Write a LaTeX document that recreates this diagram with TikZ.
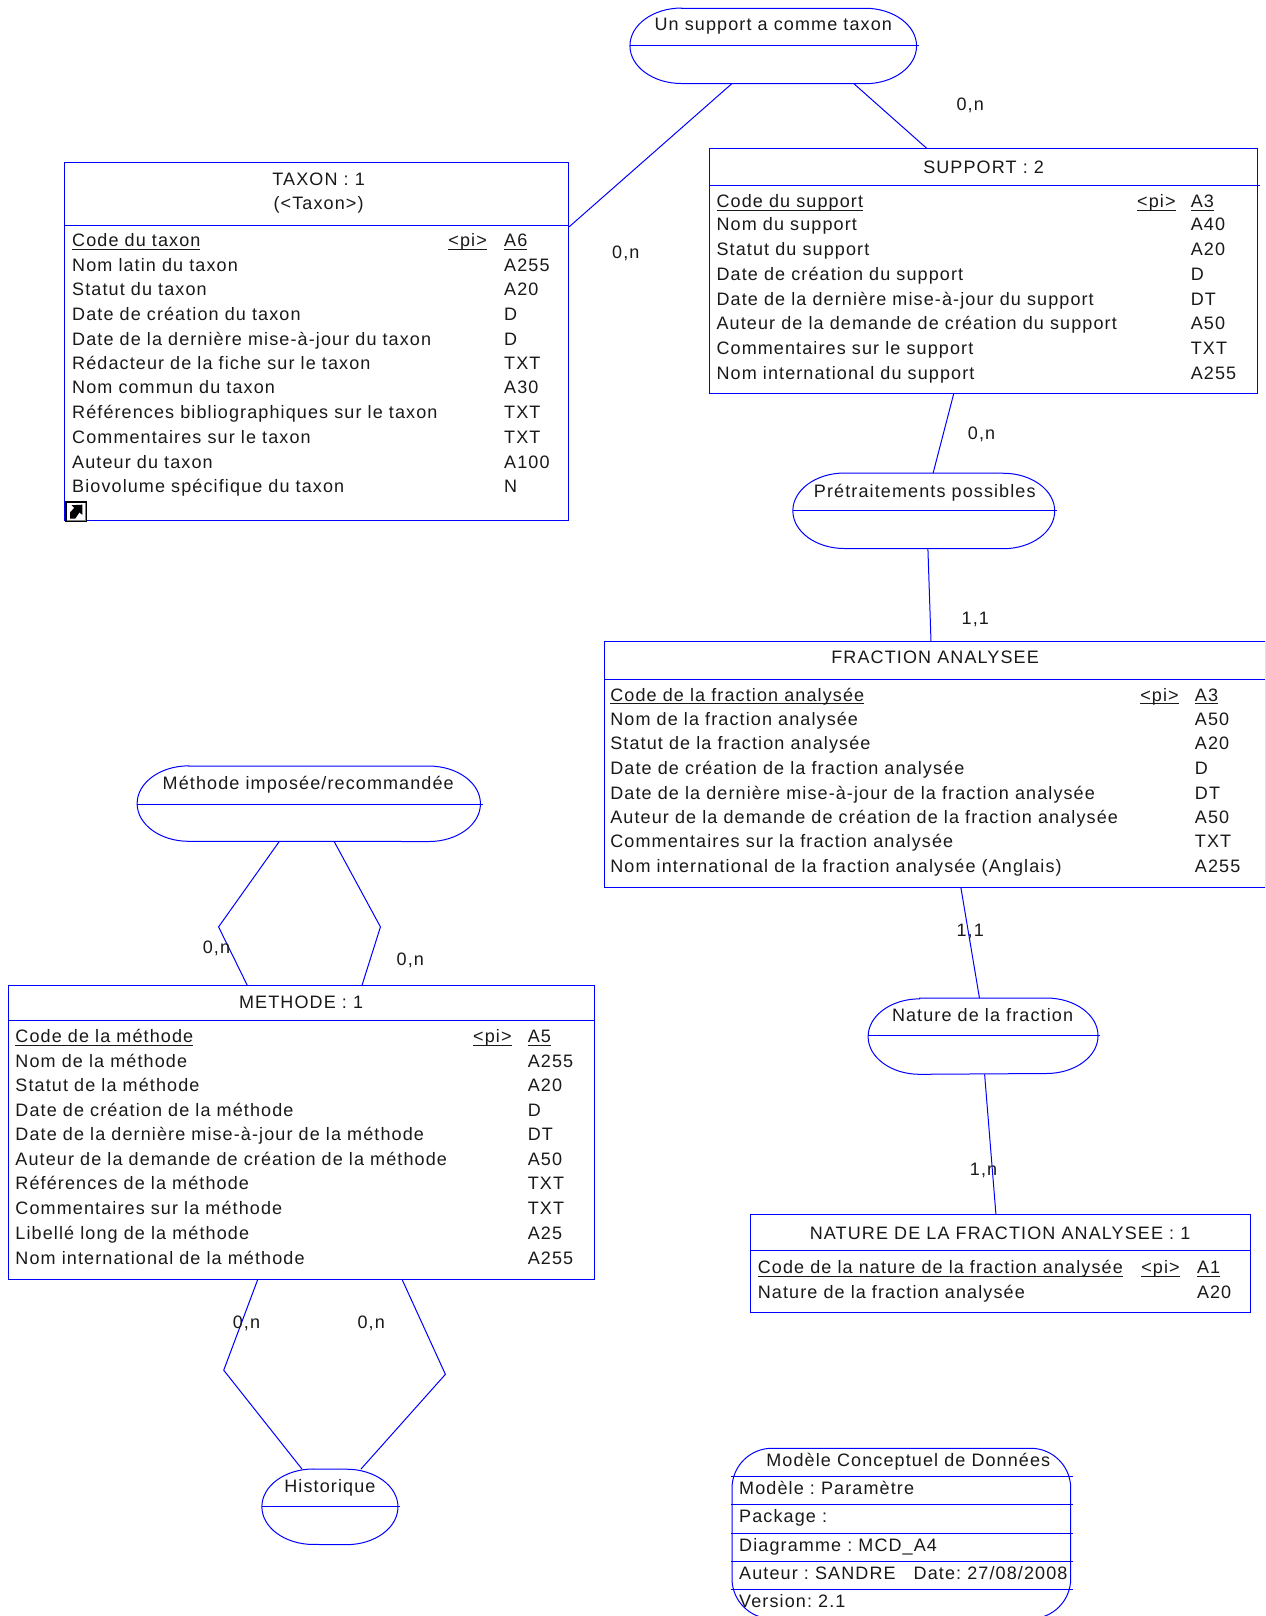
\documentclass[tikz,border=0pt]{standalone}
\usepackage{fontspec}
\setmainfont[LetterSpace=6.2]{Liberation Sans}
\frenchspacing
\usetikzlibrary{calc}
\definecolor{mcdblue}{RGB}{0,0,255}
\newcount\txtn
\newcommand\ulx[1]{\leavevmode\setbox0\hbox{#1}\rlap{\rule[-2.3pt]{\wd0}{0.6pt}}\box0}
\tikzset{
  wire/.style={draw=mcdblue,line width=0.75pt},
  entbox/.style={draw=mcdblue,line width=0.75pt,rectangle,inner sep=0pt,outer sep=0pt},
  relbox/.style={rectangle,inner sep=0pt,outer sep=0pt},
  infobox/.style={draw=mcdblue,line width=0.75pt,rectangle,rounded corners=30pt,inner sep=0pt,outer sep=0pt},
  txt/.style={font=\fontsize{13.5}{15}\selectfont,inner sep=0pt,outer sep=0pt,text=black!90},
  lefttxt/.style={txt,anchor=base west},
  midtxt/.style={txt,anchor=base},
}
% box by corners: name, x1,y1,x2,y2, style
\newcommand\shapebox[6]{\node[#6,minimum width={(#4-#2)*0.7732pt},minimum height={(#5-#3)*0.7732pt}] (#1) at ({(#2+#4)/2},{(#3+#5)/2}) {};}
% relation: name, x1,y1,x2,y2, y of separator
\newcommand\relshape[6]{\shapebox{#1}{#2}{#3}{#4}{#5}{relbox}
  \draw[wire] ($(#1.north west)+(50,0)$) -- ($(#1.north east)+(-50,0)$)
    arc[start angle=90,end angle=-90,x radius=38.66pt,y radius=28.3pt]
    -- ($(#1.south west)+(50,0)$)
    arc[start angle=270,end angle=90,x radius=38.66pt,y radius=28.3pt] -- cycle;
  \draw[wire] (#1.west |- 0,#6) -- ($(#1.east |- 0,#6)+(2,0)$);}
% one text: style, x, y (centre of line), text
\newcommand\tx[4]{\global\advance\txtn by 1 \node[#1] (txt\the\txtn) at (#2,#3+6) {#4};}
% attribute row: name x, type x, y, name, type
\newcommand\attr[5]{\tx{lefttxt}{#1}{#3}{#4}\tx{lefttxt}{#2}{#3}{#5}}
% key row: name x, pi x, type x, y, name, type
\newcommand\keyrow[6]{\tx{lefttxt}{#1}{#4}{\ulx{#5}}\tx{lefttxt}{#2}{#4}{\ulx{<pi>}}\tx{lefttxt}{#3}{#4}{\ulx{#6}}}
\begin{document}
\begin{tikzpicture}[x=0.7732pt,y=-0.7732pt]
\clip (0,0) rectangle (1227,1567.4);
\fill[white] (0,0) rectangle (1227,1567.4);

% ---------- relations
\relshape{rsup}{611}{8}{889}{81}{44}
\tx{midtxt}{750}{24}{Un support a comme taxon}

\relshape{rpre}{769}{459}{1023}{532}{495}
\tx{midtxt}{897}{477}{Prétraitements possibles}

\relshape{rmet}{133}{743}{466}{816}{780}
\tx{midtxt}{299}{760}{Méthode imposée/recommandée}

\relshape{rnat}{842}{968}{1065}{1042}{1004}
\tx{midtxt}{953}{985}{Nature de la fraction}

\relshape{rhis}{254}{1425}{386}{1498}{1461}
\tx{midtxt}{320}{1442}{Historique}

% ---------- TAXON
\shapebox{taxon}{63}{158}{551}{505}{entbox}
\draw[wire] (taxon.west |- 0,219) -- (552,219);
\tx{midtxt}{309}{174}{TAXON : 1}
\tx{midtxt}{309}{197}{(<Taxon>)}
\keyrow{70}{435}{489}{233}{Code du taxon}{A6}
\attr{70}{489}{257}{Nom latin du taxon}{A255}
\attr{70}{489}{281}{Statut du taxon}{A20}
\attr{70}{489}{305}{Date de création du taxon}{D}
\attr{70}{489}{329}{Date de la dernière mise-à-jour du taxon}{D}
\attr{70}{489}{352}{Rédacteur de la fiche sur le taxon}{TXT}
\attr{70}{489}{376}{Nom commun du taxon}{A30}
\attr{70}{489}{400}{Références bibliographiques sur le taxon}{TXT}
\attr{70}{489}{424}{Commentaires sur le taxon}{TXT}
\attr{70}{489}{448}{Auteur du taxon}{A100}
\attr{70}{489}{472}{Biovolume spécifique du taxon}{N}
% shortcut icon
\fill[black] (63,486) rectangle (84.5,506.5);
\fill[white] (64.5,487.5) rectangle (82.5,504.5);
\draw[gray,line width=0.75pt] (82.5,487.5) -- (82.5,504.5) -- (64.5,504.5);
\fill[black] (68,503) -- (68,497) -- (72,492.5) -- (69.5,490) -- (80,489.5) -- (80,499.5) -- (77,497) -- (73,503) -- cycle;

% ---------- SUPPORT
\shapebox{support}{688}{144}{1220}{382}{entbox}
\draw[wire] (support.west |- 0,180) -- (1222,180);
\tx{midtxt}{954}{162}{SUPPORT : 2}
\keyrow{695}{1103}{1155}{195}{Code du support}{A3}
\attr{695}{1155}{218}{Nom du support}{A40}
\attr{695}{1155}{242}{Statut du support}{A20}
\attr{695}{1155}{266}{Date de création du support}{D}
\attr{695}{1155}{290}{Date de la dernière mise-à-jour du support}{DT}
\attr{695}{1155}{314}{Auteur de la demande de création du support}{A50}
\attr{695}{1155}{338}{Commentaires sur le support}{TXT}
\attr{695}{1155}{362}{Nom international du support}{A255}

% ---------- FRACTION ANALYSEE
\shapebox{fraction}{586}{622}{1227}{861}{entbox}
\draw[wire] (fraction.west |- 0,659) -- (fraction.east |- 0,659);
\tx{midtxt}{907}{638}{FRACTION ANALYSEE}
\keyrow{592}{1106}{1159}{674}{Code de la fraction analysée}{A3}
\attr{592}{1159}{698}{Nom de la fraction analysée}{A50}
\attr{592}{1159}{721}{Statut de la fraction analysée}{A20}
\attr{592}{1159}{745}{Date de création de la fraction analysée}{D}
\attr{592}{1159}{769}{Date de la dernière mise-à-jour de la fraction analysée}{DT}
\attr{592}{1159}{793}{Auteur de la demande de création de la fraction analysée}{A50}
\attr{592}{1159}{816}{Commentaires sur la fraction analysée}{TXT}
\attr{592}{1159}{840}{Nom international de la fraction analysée (Anglais)}{A255}

% ---------- METHODE
\shapebox{methode}{8}{956}{577}{1241}{entbox}
\draw[wire] (methode.west |- 0,990) -- (methode.east |- 0,990);
\tx{midtxt}{292}{972}{METHODE : 1}
\keyrow{15}{459}{512}{1005}{Code de la méthode}{A5}
\attr{15}{512}{1029}{Nom de la méthode}{A255}
\attr{15}{512}{1053}{Statut de la méthode}{A20}
\attr{15}{512}{1077}{Date de création de la méthode}{D}
\attr{15}{512}{1100}{Date de la dernière mise-à-jour de la méthode}{DT}
\attr{15}{512}{1124}{Auteur de la demande de création de la méthode}{A50}
\attr{15}{512}{1148}{Références de la méthode}{TXT}
\attr{15}{512}{1172}{Commentaires sur la méthode}{TXT}
\attr{15}{512}{1196}{Libellé long de la méthode}{A25}
\attr{15}{512}{1220}{Nom international de la méthode}{A255}

% ---------- NATURE
\shapebox{nature}{728}{1178}{1213}{1273}{entbox}
\draw[wire] (nature.west |- 0,1213) -- (nature.east |- 0,1213);
\tx{midtxt}{970}{1196}{NATURE DE LA FRACTION ANALYSEE : 1}
\keyrow{735}{1107}{1161}{1229}{Code de la nature de la fraction analysée}{A1}
\attr{735}{1161}{1253}{Nature de la fraction analysée}{A20}

% ---------- connectors
\draw[wire] ($(rsup.south west)+(99,0)$) -- ($(taxon.north east)+(1,62)$);
\draw[wire] ($(rsup.south west)+(217,0)$) -- ($(support.north west)+(211,0)$);
\draw[wire] ($(support.south west)+(237,0)$) -- ($(rpre.north west)+(136,0)$);
\draw[wire] ($(rpre.south west)+(131,0)$) -- ($(fraction.north west)+(317,0)$);
\draw[wire] ($(fraction.south west)+(346,0)$) -- ($(rnat.north west)+(108,0)$);
\draw[wire] ($(rnat.south west)+(113,0)$) -- ($(nature.north west)+(238,0)$);
\draw[wire] ($(rmet.south west)+(138,0)$) -- (212,899) -- ($(methode.north west)+(232,0)$);
\draw[wire] ($(rmet.south west)+(191,0)$) -- (369,899) -- ($(methode.north west)+(343,0)$);
\draw[wire] ($(methode.south west)+(242,0)$) -- (217,1329) -- ($(rhis.north west)+(39,0)$);
\draw[wire] ($(methode.south west)+(382,0)$) -- (432,1333) -- ($(rhis.north west)+(96,0)$);

% ---------- cardinalities
\tx{midtxt}{941}{101}{0,n}
\tx{midtxt}{607}{245}{0,n}
\tx{midtxt}{952}{420}{0,n}
\tx{midtxt}{946}{600}{1,1}
\tx{midtxt}{941}{902}{1,1}
\tx{midtxt}{954}{1134}{1,n}
\tx{midtxt}{210}{919}{0,n}
\tx{midtxt}{398}{930}{0,n}
\tx{midtxt}{239}{1283}{0,n}
\tx{midtxt}{360}{1283}{0,n}

% ---------- title block
\shapebox{info}{710}{1404.7}{1038.5}{1570}{infobox}
\foreach \dy in {27.6,55,82.3,110,137.3}{
  \draw[wire] ($(info.north west)+(-1,\dy)$) -- ($(info.north east)+(2.5,\dy)$);
}
\tx{midtxt}{881}{1416}{Modèle Conceptuel de Données}
\tx{lefttxt}{717}{1444}{Modèle : Paramètre}
\tx{lefttxt}{717}{1471}{Package :}
\tx{lefttxt}{717}{1499}{Diagramme : MCD\_A4}
\tx{lefttxt}{717}{1526}{Auteur : SANDRE\hspace{1em}Date: 27/08/2008}
\tx{lefttxt}{717}{1553}{Version: 2.1}
\end{tikzpicture}
\end{document}
